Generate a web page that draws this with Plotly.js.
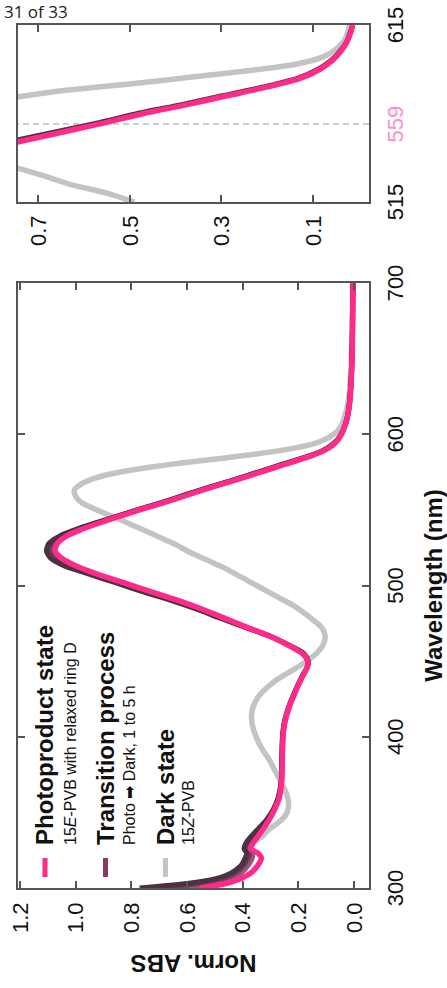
<!DOCTYPE html>
<html><head><meta charset="utf-8">
<script src="https://cdn.plot.ly/plotly-3.0.1.min.js"></script>
<style>
html,body{margin:0;padding:0;background:#fff;overflow:hidden;width:447px;height:988px;}
#chart{position:absolute;left:0;top:0;width:988px;height:447px;transform-origin:0 0;transform:translate(0px,988px) rotate(-90deg);z-index:1;}
#pg{position:absolute;left:4px;top:3px;font-size:17px;line-height:17px;font-family:"Open Sans",sans-serif;color:#222;white-space:nowrap;z-index:5;}
</style></head><body>
<div id="chart"></div>
<div id="pg">31 of 33</div>
<script>
// ---- main panel data (wavelength in nm, normalized absorbance) ----
const wl = [300,303,306,310,315,320,323,326,329,333,338,345,352,360,370,380,390,400,410,420,430,440,446,450,455,460,466,472,478,484,490,496,502,508,513,518,523,528,533,537,541,545,550,555,560,565,570,575,580,585,589,593,597,602,610,620,635,650,670,690,700];
const absPhoto = [0.55,0.46,0.41,0.37,0.345,0.333,0.345,0.372,0.365,0.35,0.33,0.305,0.285,0.268,0.26,0.258,0.257,0.255,0.248,0.232,0.21,0.185,0.168,0.166,0.185,0.23,0.295,0.38,0.46,0.54,0.63,0.73,0.83,0.93,1.0,1.05,1.074,1.065,1.03,0.98,0.92,0.855,0.77,0.68,0.595,0.51,0.42,0.335,0.25,0.165,0.11,0.075,0.055,0.04,0.025,0.016,0.01,0.007,0.005,0.004,0.003];
const absTrans1 = [0.77,0.60,0.50,0.44,0.405,0.39,0.385,0.395,0.39,0.375,0.35,0.315,0.29,0.272,0.262,0.26,0.259,0.257,0.25,0.234,0.212,0.186,0.168,0.164,0.18,0.228,0.295,0.385,0.475,0.56,0.655,0.76,0.86,0.96,1.04,1.09,1.105,1.095,1.055,1.0,0.935,0.865,0.78,0.69,0.605,0.52,0.43,0.345,0.26,0.172,0.115,0.079,0.057,0.041,0.026,0.017,0.011,0.008,0.006,0.005,0.004];
const absTrans2 = [0.70,0.56,0.475,0.425,0.395,0.38,0.375,0.39,0.385,0.37,0.345,0.31,0.288,0.27,0.261,0.259,0.258,0.256,0.249,0.233,0.211,0.186,0.168,0.165,0.182,0.229,0.295,0.383,0.47,0.552,0.645,0.748,0.848,0.948,1.025,1.075,1.095,1.085,1.047,0.993,0.93,0.862,0.777,0.687,0.602,0.517,0.427,0.342,0.257,0.17,0.113,0.077,0.056,0.04,0.025,0.016,0.01,0.007,0.005,0.004,0.003];
const absTrans3 = [0.62,0.51,0.45,0.405,0.38,0.365,0.365,0.385,0.378,0.362,0.338,0.308,0.286,0.27,0.26,0.258,0.257,0.255,0.248,0.232,0.21,0.185,0.168,0.166,0.183,0.23,0.295,0.382,0.465,0.546,0.638,0.74,0.84,0.94,1.012,1.062,1.085,1.075,1.04,0.987,0.926,0.859,0.774,0.684,0.599,0.514,0.424,0.339,0.254,0.168,0.112,0.076,0.055,0.04,0.025,0.016,0.01,0.007,0.005,0.004,0.003];
const wlDark = [300,303,306,310,315,320,325,330,334,338,345,350,356,362,370,378,385,392,400,408,414,420,426,432,438,444,450,456,462,467,472,477,482,487,492,497,502,507,512,517,522,527,532,537,541,546,550,555,559,563,567,571,575,578,581,584,587,590,594,598,602,607,614,622,640,660,700];
const absDark = [0.62,0.55,0.49,0.44,0.405,0.39,0.38,0.365,0.33,0.31,0.26,0.24,0.235,0.242,0.262,0.285,0.305,0.33,0.352,0.365,0.368,0.362,0.345,0.315,0.275,0.22,0.17,0.13,0.108,0.104,0.115,0.145,0.18,0.22,0.27,0.32,0.37,0.42,0.47,0.53,0.59,0.64,0.70,0.76,0.81,0.87,0.925,0.98,1.0,1.005,0.98,0.93,0.84,0.74,0.62,0.48,0.35,0.24,0.14,0.09,0.06,0.042,0.03,0.02,0.012,0.008,0.005];

// ---- inset data ----
const wlInset = [515,520,525,530,535,540,545,549,555,560,565,570,575,580,585,590,595,600,605,610,615];
const insetPhoto = [1.04,1.07,1.07,1.05,0.99,0.90,0.82,0.743,0.638,0.55,0.47,0.375,0.288,0.20,0.127,0.085,0.058,0.04,0.027,0.019,0.013];
const insetTrans = [1.08,1.10,1.10,1.08,1.02,0.93,0.845,0.765,0.655,0.565,0.483,0.387,0.298,0.208,0.133,0.089,0.061,0.042,0.028,0.02,0.014];
const wlInsetDark = [515,520,525,530,534,540,545,550,555,559,563,567,571,574.5,578,582,586,590,593,597,602,607,614,615];
const insetDark = [0.49,0.55,0.63,0.69,0.743,0.82,0.88,0.93,0.97,0.99,0.99,0.95,0.86,0.743,0.645,0.49,0.35,0.215,0.135,0.078,0.047,0.03,0.021,0.02];

// ---- labels ----
const xTicks = [300,400,500,600,700];
const yTicks = [0,0.2,0.4,0.6,0.8,1.0,1.2];
const insetXTicks = [515,559,615];
const insetXText = ['515','<span style="color:#ff8fcb">559</span>','615'];
const insetYTicks = [0.1,0.3,0.5,0.7];
const markLine = 559;
const legendMain = ['<b>Photoproduct state</b>','<b>Transition process</b>','<b>Dark state</b>'];
const legendSub = ['15<i>E</i>-PVB with relaxed ring D','Photo ➡ Dark, 1 to 5 h','15<i>Z</i>-PVB'];

const PINK='#ff2a8a', GRAY='#c3c3c3', T1='#4b3141', T2='#6e3d55', T3='#9b5578', TLEG='#8a3a62';
const W=988, H=447, FONT='"Liberation Sans", Arial, Helvetica, sans-serif';

function tr(x,y,color,w,xa,ya,name){
  return {x:x,y:y,type:'scatter',mode:'lines',name:name,showlegend:false,hoverinfo:'skip',
    xaxis:xa,yaxis:ya,line:{color:color,width:w,shape:'spline',smoothing:0.7}};
}
const data = [
  tr(wlDark,absDark,GRAY,5.5,'x','y','Dark state'),
  tr(wl,absTrans3,T3,5,'x','y','Transition process'),
  tr(wl,absTrans2,T2,5,'x','y','Transition process'),
  tr(wl,absTrans1,T1,5,'x','y','Transition process'),
  tr(wl,absPhoto,PINK,5.5,'x','y','Photoproduct state'),
  tr(wlInsetDark,insetDark,GRAY,5.5,'x2','y2','Dark state'),
  tr(wlInset,insetTrans,T1,5,'x2','y2','Transition process'),
  tr(wlInset,insetPhoto,PINK,5.5,'x2','y2','Photoproduct state')
];

const axCommon = {showline:true,linecolor:'#555',linewidth:2,mirror:'ticks',ticks:'inside',ticklen:7,tickwidth:2,tickcolor:'#555',
  showgrid:false,zeroline:false,automargin:false,tickfont:{family:FONT,size:22,color:'#111'}};
const yDom=[78/H,429/H];
const layout = {
  width:W,height:H,margin:{l:0,r:0,t:0,b:0},paper_bgcolor:'rgba(0,0,0,0)',plot_bgcolor:'rgba(0,0,0,0)',showlegend:false,
  xaxis:Object.assign({},axCommon,{domain:[100/W,705/W],range:[300,700],tickvals:xTicks,ticklabelstandoff:6,
    title:{text:'<b>Wavelength (nm)</b>',font:{family:FONT,size:24,color:'#111'},standoff:18}}),
  yaxis:Object.assign({},axCommon,{domain:yDom,range:[-0.054,1.207],tickvals:yTicks,tickformat:'.1f',ticklabelstandoff:8,
    title:{text:'<b>Norm. ABS</b>',font:{family:FONT,size:24,color:'#111'},standoff:15}}),
  xaxis2:Object.assign({},axCommon,{domain:[786/W,963/W],range:[515,615],anchor:'y2',tickvals:insetXTicks,ticktext:insetXText,ticks:'',mirror:true,ticklabelstandoff:6}),
  yaxis2:Object.assign({},axCommon,{domain:yDom,range:[-0.022,0.744],anchor:'x2',tickvals:insetYTicks,tickformat:'.1f',ticklabelstandoff:7}),
  shapes:[
    {type:'line',xref:'x2',yref:'y2 domain',x0:markLine,x1:markLine,y0:0,y1:1,layer:'below',line:{color:'#bdbdbd',width:1.5,dash:'6px,4px'}},
    {type:'line',xref:'paper',yref:'paper',x0:111/W,x1:130/W,y0:(H-45)/H,y1:(H-45)/H,line:{color:PINK,width:5}},
    {type:'line',xref:'paper',yref:'paper',x0:111/W,x1:130/W,y0:(H-105.5)/H,y1:(H-105.5)/H,line:{color:TLEG,width:5}},
    {type:'line',xref:'paper',yref:'paper',x0:111/W,x1:130/W,y0:(H-165.5)/H,y1:(H-165.5)/H,line:{color:GRAY,width:5}}
  ],
  annotations:[]
};
const mainY=[45,105.5,165.5], subY=[70,130,189];
for(let i=0;i<3;i++){
  layout.annotations.push({xref:'paper',yref:'paper',x:141/W,y:(H-mainY[i])/H,xanchor:'left',yanchor:'middle',showarrow:false,
    text:legendMain[i],font:{family:FONT,size:24,color:'#111'}});
  layout.annotations.push({xref:'paper',yref:'paper',x:141/W,y:(H-subY[i])/H,xanchor:'left',yanchor:'middle',showarrow:false,
    text:legendSub[i],font:{family:FONT,size:16,color:'#111'}});
}
Plotly.newPlot('chart',data,layout,{displayModeBar:false,staticPlot:true});
</script></body></html>
